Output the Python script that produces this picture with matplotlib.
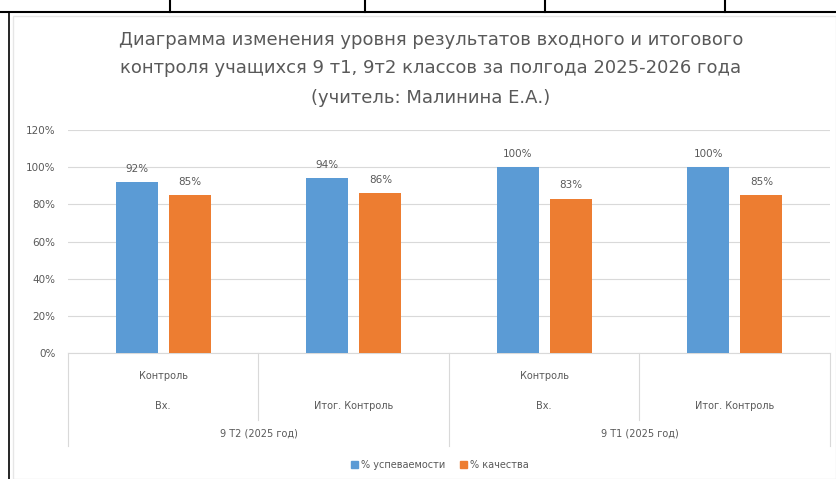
import matplotlib.pyplot as plt
from matplotlib.lines import Line2D
from matplotlib.patches import Rectangle, Patch

# --- data ---
groups = ["9 Т2 (2025 год)", "9 Т1 (2025 год)"]
categories = ["Контроль\n\nВх.", "Итог. Контроль", "Контроль\n\nВх.", "Итог. Контроль"]
uspevaemost = [92, 94, 100, 100]
kachestvo = [85, 86, 83, 85]
yticks = [0, 20, 40, 60, 80, 100, 120]

BLUE = "#5B9BD5"
ORANGE = "#ED7D31"
GRAY = "#595959"
GRID = "#D9D9D9"

fig = plt.figure(figsize=(8.37, 4.79), dpi=100)
W, H = 837, 479

def fx(px):
    return px / W

def fy(py):
    return 1 - py / H

# table lines around the chart (document border)
fig.add_artist(Line2D([0, 1], [fy(12), fy(12)], color="black", lw=1.5))
for px in [170, 365, 545, 725]:
    fig.add_artist(Line2D([fx(px), fx(px)], [1, fy(12)], color="black", lw=1.5))
fig.add_artist(Line2D([fx(9), fx(9)], [fy(12), 0], color="black", lw=1.2))
# chart frame
fig.add_artist(Rectangle((fx(13), 0), fx(836) - fx(13), fy(16), fill=False,
                         edgecolor="#E6E6E6", lw=1))

ax = fig.add_axes([fx(68), fy(353), fx(830) - fx(68), fy(130) - fy(353)])
x = range(len(categories))
off = 0.14
bw = 0.22
b1 = ax.bar([i - off for i in x], uspevaemost, bw, color=BLUE, zorder=3)
b2 = ax.bar([i + off for i in x], kachestvo, bw, color=ORANGE, zorder=3)
for bars, vals in [(b1, uspevaemost), (b2, kachestvo)]:
    for b, v in zip(bars, vals):
        ax.text(b.get_x() + b.get_width() / 2, v + 4.5, f"{v}%", ha="center",
                va="bottom", fontsize=7.5, color=GRAY)

ax.set_xlim(-0.5, len(categories) - 0.5)
ax.set_ylim(0, 120)
ax.set_yticks(yticks)
ax.set_yticklabels([f"{t}%" for t in yticks], fontsize=7.5, color=GRAY)
ax.yaxis.grid(True, color=GRID, lw=0.8, zorder=0)
ax.set_xticks([])
ax.tick_params(axis="y", length=0, pad=9)
for s in ["top", "right", "left"]:
    ax.spines[s].set_visible(False)
ax.spines["bottom"].set_color(GRID)

# category labels and group labels below
tr = ax.get_xaxis_transform()
axh = 353 - 130
def ay(py):
    return (353 - py) / axh

for i, lab in enumerate(categories):
    if "\n" in lab:
        top, _, bot = lab.split("\n")
        ax.text(i, ay(376), top, transform=tr, ha="center", va="center", fontsize=7, color=GRAY)
        ax.text(i, ay(406), bot, transform=tr, ha="center", va="center", fontsize=7, color=GRAY)
    else:
        ax.text(i, ay(406), lab, transform=tr, ha="center", va="center", fontsize=7, color=GRAY)
for g, lab in enumerate(groups):
    ax.text(g * 2 + 0.5, ay(434), lab, transform=tr, ha="center", va="center", fontsize=7, color=GRAY)

# separators
for xv, bottom in [(-0.5, 446), (0.5, 420), (1.5, 446), (2.5, 420), (3.5, 446)]:
    ax.add_line(Line2D([xv, xv], [0, ay(bottom)], transform=tr, color=GRID, lw=0.8,
                       clip_on=False))

fig.text(0.515, fy(40), "Диаграмма изменения уровня результатов входного и итогового",
         ha="center", va="center", fontsize=13, color=GRAY)
fig.text(0.515, fy(68), "контроля учащихся 9 т1, 9т2 классов за полгода 2025-2026 года",
         ha="center", va="center", fontsize=13, color=GRAY)
fig.text(0.515, fy(98), "(учитель: Малинина Е.А.)",
         ha="center", va="center", fontsize=13, color=GRAY)

handles = [Patch(color=BLUE), Patch(color=ORANGE)]
fig.legend(handles, ["% успеваемости", "% качества"], loc="center",
           bbox_to_anchor=(fx(440), fy(465)), ncol=2, frameon=False, fontsize=7,
           handlelength=0.7, handleheight=0.7, handletextpad=0.3, columnspacing=1.5,
           labelcolor=GRAY)

fig.savefig("out.png", dpi=100)
